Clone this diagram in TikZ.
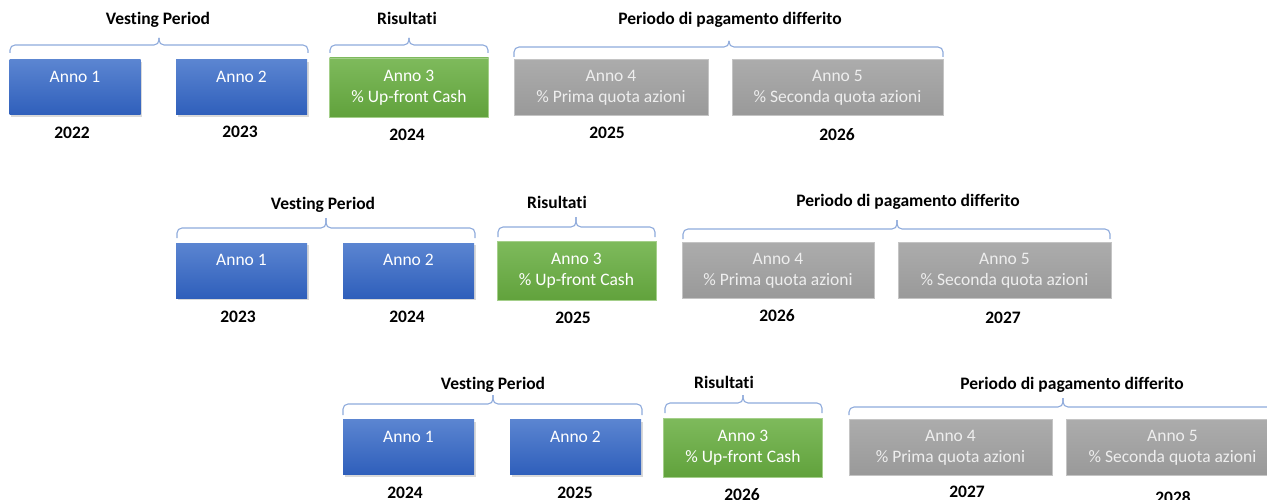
\documentclass[tikz,border=0pt]{standalone}
\usepackage{fontspec}
\setmainfont{Carlito}[Ligatures={NoCommon,NoContextual}]
\usetikzlibrary{shadows}
\definecolor{bluetop}{HTML}{5B85D1}
\definecolor{bluebot}{HTML}{2F5FBB}
\definecolor{greentop}{HTML}{7EBA5C}
\definecolor{greenbot}{HTML}{61A23C}
\definecolor{greenline}{HTML}{A4CF8A}
\definecolor{graytop}{HTML}{ACACAC}
\definecolor{graybot}{HTML}{999999}
\definecolor{grayline}{HTML}{C4C4C4}
\definecolor{graytext}{HTML}{EEEEEE}
\definecolor{bracecol}{HTML}{8EAADB}
\tikzset{
  x=1pt, y=-1pt,
  box/.style={rectangle, inner sep=0pt, align=center, font=\fontsize{17.5}{21}\selectfont},
  bluebox/.style={box, text=white, top color=bluetop, bottom color=bluebot,
    minimum width=131pt, minimum height=55pt,
    drop shadow={shadow xshift=1.5pt, shadow yshift=-2pt, opacity=0.3}},
  greenbox/.style={box, text=white, top color=greentop, bottom color=greenbot,
    draw=greenline, line width=0.8pt, minimum width=159pt, minimum height=59pt},
  graybox/.style={box, text=graytext, top color=graytop, bottom color=graybot,
    draw=grayline, line width=0.8pt, minimum height=56pt},
  title/.style={inner sep=0pt, font=\bfseries\fontsize{17.5}{21}\selectfont},
  year/.style={inner sep=0pt, font=\bfseries\fontsize{17.5}{21}\selectfont},
  bracestyle/.style={draw=bracecol, line width=1.1pt, rounded corners=5pt},
}
\newcommand\officebrace[6]{%
  \draw[bracestyle] (#1,#6) -- (#1,#5) -- (#3,#5) -- (#3,#4);
  \draw[bracestyle] (#2,#6) -- (#2,#5) -- (#3,#5) -- (#3,#4);
}
\begin{document}
\begin{tikzpicture}
\useasboundingbox (0,0) rectangle (1267,500);
\clip (0,0) rectangle (1267,500);

% ---------- Row 1 ----------
\node[title] (v1) at (158,20) {Vesting Period};
\node[title] (r1) at (407,18) {Risultati};
\node[title] (p1) at (730,20) {Periodo di pagamento differito};
\officebrace{10}{308}{159}{38}{45}{53}
\officebrace{330}{488}{409}{38}{45}{53}
\officebrace{514}{943}{729}{41}{47}{57}
\node[bluebox] (a11) at (75,87.5) {Anno 1\\\mbox{}};
\node[bluebox] (a12) at (241.5,87.5) {Anno 2\\\mbox{}};
\node[greenbox] (a13) at (409,87.5) {Anno 3\\\% Up-front Cash};
\node[graybox, minimum width=194pt] (a14) at (611,87.5) {Anno 4\\\% Prima quota azioni};
\node[graybox, minimum width=211pt] (a15) at (837.5,87.5) {Anno 5\\\% Seconda quota azioni};
\node[year] (y11) at (72,133) {2022};
\node[year] (y12) at (240,132) {2023};
\node[year] (y13) at (407,135) {2024};
\node[year] (y14) at (607,133) {2025};
\node[year] (y15) at (837,135) {2026};

% ---------- Row 2 ----------
\node[title] (v2) at (323,205) {Vesting Period};
\node[title] (r2) at (557,202) {Risultati};
\node[title] (p2) at (908,202) {Periodo di pagamento differito};
\officebrace{177}{475}{326}{218}{228}{238}
\officebrace{498}{655}{576}{217}{227}{237}
\officebrace{683}{1110}{897}{220}{229}{239}
\node[bluebox] (a21) at (241.5,270.5) {Anno 1\\\mbox{}};
\node[bluebox] (a22) at (408.5,270.5) {Anno 2\\\mbox{}};
\node[greenbox] (a23) at (576.5,271) {Anno 3\\\% Up-front Cash};
\node[graybox, minimum width=192pt] (a24) at (778,270.5) {Anno 4\\\% Prima quota azioni};
\node[graybox, minimum width=213pt] (a25) at (1004.5,270.5) {Anno 5\\\% Seconda quota azioni};
\node[year] (y21) at (238,317) {2023};
\node[year] (y22) at (407,317) {2024};
\node[year] (y23) at (573,318) {2025};
\node[year] (y24) at (777,316) {2026};
\node[year] (y25) at (1003,318) {2027};

% ---------- Row 3 ----------
\node[title] (v3) at (493,385) {Vesting Period};
\node[title] (r3) at (724,382) {Risultati};
\node[title] (p3) at (1072,385) {Periodo di pagamento differito};
\officebrace{343}{642}{493}{395}{404}{415}
\officebrace{665}{822}{743}{395}{403}{413}
\officebrace{849}{1277}{1063}{398}{407}{415}
\node[bluebox] (a31) at (408.5,447) {Anno 1\\\mbox{}};
\node[bluebox] (a32) at (575.5,447) {Anno 2\\\mbox{}};
\node[greenbox] (a33) at (743,447.5) {Anno 3\\\% Up-front Cash};
\node[graybox, minimum width=203pt] (a34) at (950.5,447.5) {Anno 4\\\% Prima quota azioni};
\node[graybox, minimum width=213pt] (a35) at (1172.5,447.5) {Anno 5\\\% Seconda quota azioni};
\node[year] (y31) at (405,493) {2024};
\node[year] (y32) at (575,493) {2025};
\node[year] (y33) at (742,495) {2026};
\node[year] (y34) at (967,492) {2027};
\node[year] (y35) at (1173,498) {2028};
\end{tikzpicture}
\end{document}
